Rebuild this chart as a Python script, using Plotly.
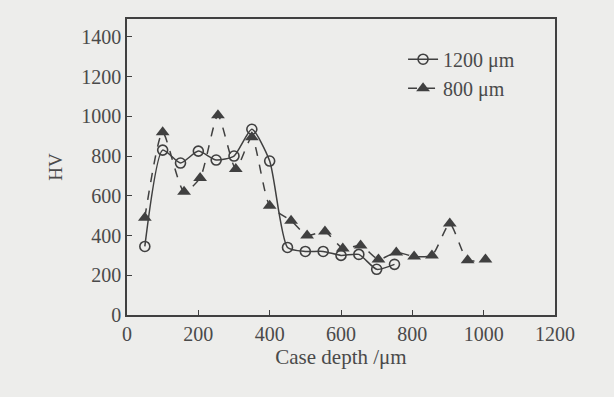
import plotly.graph_objects as go

depth_1200 = [50, 100, 150, 200, 250, 300, 350, 400, 450, 500, 550, 600, 650, 700, 750]
hv_1200 = [345, 830, 765, 825, 780, 800, 935, 775, 340, 320, 320, 300, 305, 230, 255]

depth_800 = [50, 100, 160, 205, 255, 305, 350, 400, 460, 505, 555, 605, 655, 705, 755, 805, 855, 905, 955, 1005]
hv_800 = [490, 920, 620, 690, 1005, 735, 895, 550, 475, 400, 420, 335, 350, 280, 315, 295, 300, 460, 275, 280]

x_ticks = [0, 200, 400, 600, 800, 1000, 1200]
y_ticks = [0, 200, 400, 600, 800, 1000, 1200, 1400]

ink = "#404040"
bg = "#ededeb"
font_family = "Liberation Serif, Times New Roman, serif"

fig = go.Figure()
fig.add_trace(go.Scatter(
    x=depth_1200, y=hv_1200, name="1200 \u03bcm", mode="lines+markers",
    line=dict(color=ink, width=1.5, shape="spline", smoothing=0.6),
    marker=dict(symbol="circle-open", size=10, color=ink, line=dict(width=1.6, color=ink)),
))
fig.add_trace(go.Scatter(
    x=depth_800, y=hv_800, name="800 \u03bcm", mode="lines+markers",
    line=dict(color=ink, width=1.5, dash="dash", shape="spline", smoothing=0.6),
    marker=dict(symbol="triangle-up", size=12, color=ink),
))

axis_common = dict(
    showline=True, linecolor=ink, linewidth=1.5, mirror=True,
    ticks="inside", ticklen=5, tickwidth=1.2, tickcolor=ink,
    showgrid=False, zeroline=False,
    tickfont=dict(family=font_family, size=20, color="#4a4a4a"),
)

fig.update_layout(
    width=614, height=397,
    margin=dict(l=127, r=59, t=19, b=82),
    paper_bgcolor=bg, plot_bgcolor=bg,
    font=dict(family=font_family, size=20, color="#4a4a4a"),
    xaxis=dict(range=[0, 1200], tickvals=x_ticks,
               title=dict(text="Case depth /\u03bcm", font=dict(size=21), standoff=6),
               **axis_common),
    yaxis=dict(range=[0, 1490], tickvals=y_ticks,
               title=dict(text="HV", font=dict(size=19), standoff=14),
               **axis_common),
    legend=dict(x=0.645, y=0.93, xanchor="left", yanchor="top",
                bgcolor="rgba(0,0,0,0)", font=dict(size=20, family=font_family),
                itemwidth=30, tracegroupgap=0),
    showlegend=True,
)

fig.write_html(
    "out.html",
    config={"displayModeBar": False},
    post_script="document.body.style.margin='0';document.body.style.background='#ededeb';",
)
